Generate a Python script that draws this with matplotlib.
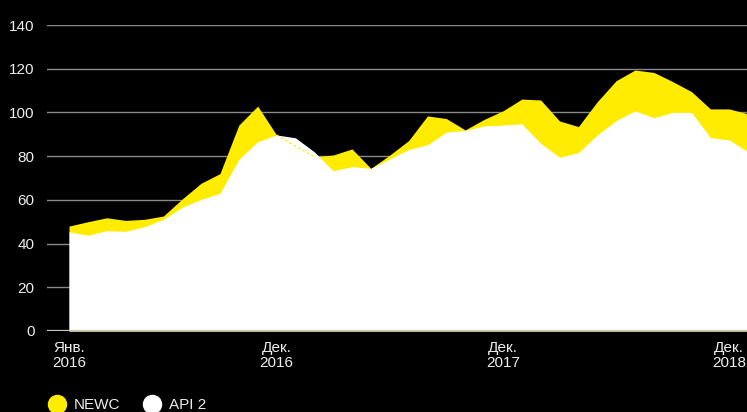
import numpy as np
import matplotlib.pyplot as plt
from matplotlib.lines import Line2D

plt.rcParams['font.family'] = ['Liberation Sans', 'DejaVu Sans']

# monthly values, Jan 2016 .. Jan 2019
newc = [48.0, 50.0, 51.8, 50.6, 51.1, 52.6, 60.4, 67.6, 72.0, 94.2, 102.9, 89.7,
        84.6, 79.7, 80.5, 83.3, 74.4, 80.5, 87.1, 98.4, 97.2, 92.0, 96.8, 100.7,
        106.1, 105.7, 96.1, 93.5, 104.9, 114.5, 119.4, 118.3, 114.1, 109.5, 101.6, 101.6,
        99.3]
api2 = [45.4, 43.8, 45.9, 45.6, 47.7, 51.1, 56.6, 60.2, 63.0, 78.5, 86.6, 89.7,
        88.4, 82.0, 73.3, 75.2, 74.4, 78.7, 83.0, 85.2, 91.0, 91.8, 93.8, 94.2,
        94.8, 85.9, 79.5, 81.6, 89.7, 96.2, 100.7, 97.6, 100.0, 100.0, 88.5, 87.4,
        82.0]
tick_pos = [0, 11, 23, 35]
tick_labels = ['Янв.\n2016', 'Дек.\n2016', 'Дек.\n2017', 'Дек.\n2018']
yticks = [0, 20, 40, 60, 80, 100, 120, 140]

yellow = '#ffec00'
x = np.arange(len(newc))
newc_a = np.array(newc)
api2_a = np.array(api2)

fig = plt.figure(figsize=(7.47, 4.12), dpi=100, facecolor='black')
ax = fig.add_axes([47/747, 81/412, 700/747, 306/412])
ax.set_facecolor('black')

for v in yticks[1:]:
    ax.axhline(v, color='#8a8a8a', lw=1, zorder=0)
ax.fill_between(x, 0, newc, color=yellow, lw=0, zorder=1)
ax.fill_between(x, 0, api2, color='white', lw=0, zorder=2)

# NEWC line shows dashed only where the white area hides it
cov = api2_a > newc_a
keep = cov | np.roll(cov, -1)
ax.plot(x, np.where(keep, newc_a, np.nan), color=yellow, lw=0.9, ls=(0, (2, 2)), zorder=3)
ax.axhline(0, color='#c8c8c8', lw=1.6, zorder=4)

ax.set_xlim(-22/18.85, 678/18.85 - 0.03)
ax.set_ylim(0, 140)
ax.set_yticks(yticks)
ax.set_xticks(tick_pos)
ax.set_xticklabels(tick_labels, linespacing=1.15)
ax.tick_params(axis='y', length=0, pad=9, labelsize=11, labelcolor='#ededed')
ax.tick_params(axis='x', length=0, pad=7, labelsize=11, labelcolor='#ededed')
for s in ax.spines.values():
    s.set_visible(False)

handles = [Line2D([], [], ls='', marker='o', ms=13, mfc=yellow, mec=yellow),
           Line2D([], [], ls='', marker='o', ms=13, mfc='white', mec='white')]
leg = fig.legend(handles, ['NEWC', 'API 2'], loc='lower left', bbox_to_anchor=(34/747, -14/412),
                 ncol=2, frameon=False, handletextpad=0.5, columnspacing=1.5,
                 handlelength=1.2, fontsize=11)
for t in leg.get_texts():
    t.set_color('#ededed')

fig.savefig('out.png', dpi=100, facecolor='black')
